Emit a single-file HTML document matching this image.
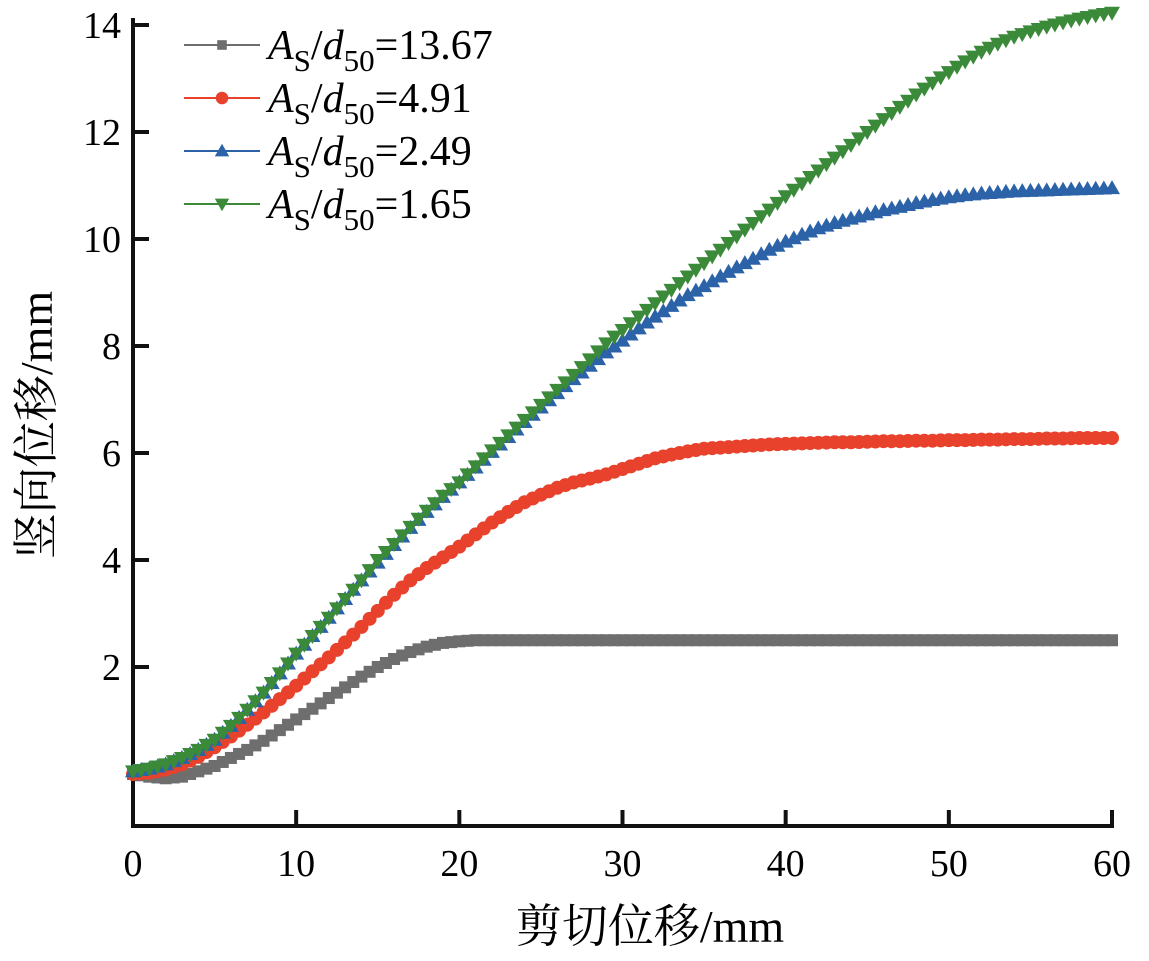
<!DOCTYPE html>
<html><head><meta charset="utf-8">
<style>
body{margin:0;background:#fff;}
svg{display:block;font-family:"Liberation Serif","Noto Serif CJK SC",serif;}
</style></head>
<body>
<svg id="chart" width="1149" height="961" viewBox="0 0 1149 961" xmlns="http://www.w3.org/2000/svg">
<g id="axes"></g>
<g id="series"></g>
<g id="legend"></g>
<text x="650" y="942" font-size="46" text-anchor="middle">剪切位移/mm</text>
<text transform="translate(52,425) rotate(-90)" font-size="46" text-anchor="middle">竖向位移/mm</text>
</svg>
<script>
const xTicks=[0,10,20,30,40,50,60];
const yTicks=[2,4,6,8,10,12,14];
const labels=["13.67","4.91","2.49","1.65"];
const gray=[0,-0.05,-0.08,-0.05,0.05,0.15,0.3,0.45,0.62,0.82,1.02,1.22,1.42,1.62,1.82,2.0,2.15,2.28,2.38,2.45,2.48,2.5,2.5,2.5,2.5,2.5,2.5,2.5,2.5,2.5,2.5,2.5,2.5,2.5,2.5,2.5,2.5,2.5,2.5,2.5,2.5,2.5,2.5,2.5,2.5,2.5,2.5,2.5,2.5,2.5,2.5,2.5,2.5,2.5,2.5,2.5,2.5,2.5,2.5,2.5,2.5];
const red=[0,0.02,0.08,0.18,0.32,0.5,0.7,0.92,1.15,1.4,1.65,1.92,2.18,2.46,2.75,3.05,3.35,3.62,3.85,4.05,4.25,4.48,4.7,4.9,5.08,5.22,5.35,5.45,5.52,5.6,5.7,5.8,5.9,5.97,6.03,6.08,6.1,6.12,6.14,6.16,6.17,6.18,6.19,6.2,6.2,6.21,6.22,6.22,6.23,6.23,6.24,6.24,6.25,6.25,6.26,6.26,6.27,6.27,6.28,6.28,6.28];
const blue=[0.05,0.1,0.18,0.3,0.45,0.64,0.9,1.2,1.52,1.88,2.25,2.58,2.92,3.27,3.62,3.95,4.28,4.6,4.9,5.18,5.45,5.73,6.02,6.3,6.58,6.85,7.12,7.38,7.63,7.88,8.1,8.33,8.55,8.75,8.95,9.12,9.3,9.47,9.63,9.8,9.95,10.08,10.2,10.3,10.38,10.46,10.54,10.6,10.67,10.73,10.78,10.82,10.85,10.87,10.89,10.9,10.91,10.92,10.93,10.94,10.95];
const green=[0.05,0.1,0.18,0.3,0.45,0.64,0.9,1.2,1.52,1.88,2.25,2.58,2.92,3.27,3.62,4.0,4.3,4.62,4.92,5.2,5.45,5.75,6.05,6.33,6.62,6.9,7.18,7.46,7.75,8.05,8.3,8.55,8.8,9.05,9.3,9.55,9.8,10.05,10.3,10.55,10.8,11.04,11.28,11.52,11.76,12.0,12.24,12.47,12.7,12.92,13.12,13.32,13.5,13.65,13.78,13.88,13.97,14.05,14.12,14.18,14.23];

const NS="http://www.w3.org/2000/svg";
const X0=133,X1=1112,Y0=826;
function sx(v){return X0+(v-0)*(X1-X0)/60;}
function sy(v){return 774-v*53.5;}
function mk(tag,attrs,parent){const e=document.createElementNS(NS,tag);for(const k in attrs)e.setAttribute(k,attrs[k]);parent.appendChild(e);return e;}
const axes=document.getElementById('axes');
let e;
e=mk('line',{x1:X0,y1:18,x2:X0,y2:Y0+2,stroke:'#111','stroke-width':4},axes);


e=mk('line',{x1:X0-2,y1:Y0,x2:X1+2,y2:Y0,stroke:'#111','stroke-width':4},axes);


xTicks.forEach(t=>{
  if(t>0){e=mk('line',{x1:sx(t),y1:Y0,x2:sx(t),y2:Y0-16,stroke:'#111','stroke-width':4},axes);
  
  }
  e=mk('text',{x:sx(t),y:Y0+50,'font-size':38,'text-anchor':'middle'},axes);e.textContent=t;
  
  
});
[0].concat(yTicks).forEach(t=>{
  e=mk('line',{x1:X0,y1:sy(t),x2:X0+16,y2:sy(t),stroke:'#111','stroke-width':4},axes);
  
  
});
yTicks.forEach(t=>{
  e=mk('text',{x:X0-12,y:sy(t)+13,'font-size':38,'text-anchor':'end'},axes);e.textContent=t;
  
  
});
const sers=[[gray,'#6e6e6e','sq'],[red,'#e8412c','ci'],[blue,'#2c63a8','up'],[green,'#3a8a3a','dn']];
function marker(shape,x,y,c,p,s){
  if(shape==='sq')return mk('rect',{x:x-s*0.6,y:y-s*0.6,width:s*1.2,height:s*1.2,fill:c},p);
  if(shape==='ci')return mk('circle',{cx:x,cy:y,r:s*0.7,fill:c},p);
  if(shape==='up')return mk('polygon',{points:`${x},${y-s*0.8} ${x-s*0.8},${y+s*0.6} ${x+s*0.8},${y+s*0.6}`,fill:c},p);
  return mk('polygon',{points:`${x},${y+s*0.8} ${x-s*0.8},${y-s*0.6} ${x+s*0.8},${y-s*0.6}`,fill:c},p);
}
const sg=document.getElementById('series');
sers.forEach((s,i)=>{
  const g=mk('g',{},sg);
  
  
  const pts=s[0].map((v,k)=>[sx(k),sy(v)]);
  mk('polyline',{points:pts.map(p=>p.join(',')).join(' '),fill:'none',stroke:s[1],'stroke-width':2},g);
  for(let k=0;k<pts.length;k++){
    const m=marker(s[2],pts[k][0],pts[k][1],s[1],g,10);
    
    
    if(k<pts.length-1){
      const mx=(pts[k][0]+pts[k+1][0])/2,my=(pts[k][1]+pts[k+1][1])/2;
      const m2=marker(s[2],mx,my,s[1],g,10);
      
      
    }
  }
});
const lg=document.getElementById('legend');
sers.forEach((s,i)=>{
  const y=45+i*53;
  const g=mk('g',{},lg);
  
  
  mk('line',{x1:184,y1:y,x2:260,y2:y,stroke:s[1],'stroke-width':2},g);
  marker(s[2],222,y,s[1],g,s[2]==='sq'?8:9);
  const t=mk('text',{x:268,y:y+14,'font-size':42},g);
  t.innerHTML=`<tspan font-style="italic">A</tspan><tspan font-size="31" dy="12">S</tspan><tspan dy="-12">/</tspan><tspan font-style="italic">d</tspan><tspan font-size="31" dy="12">50</tspan><tspan dy="-12">=${labels[i]}</tspan>`;
});
</script>
</body></html>
